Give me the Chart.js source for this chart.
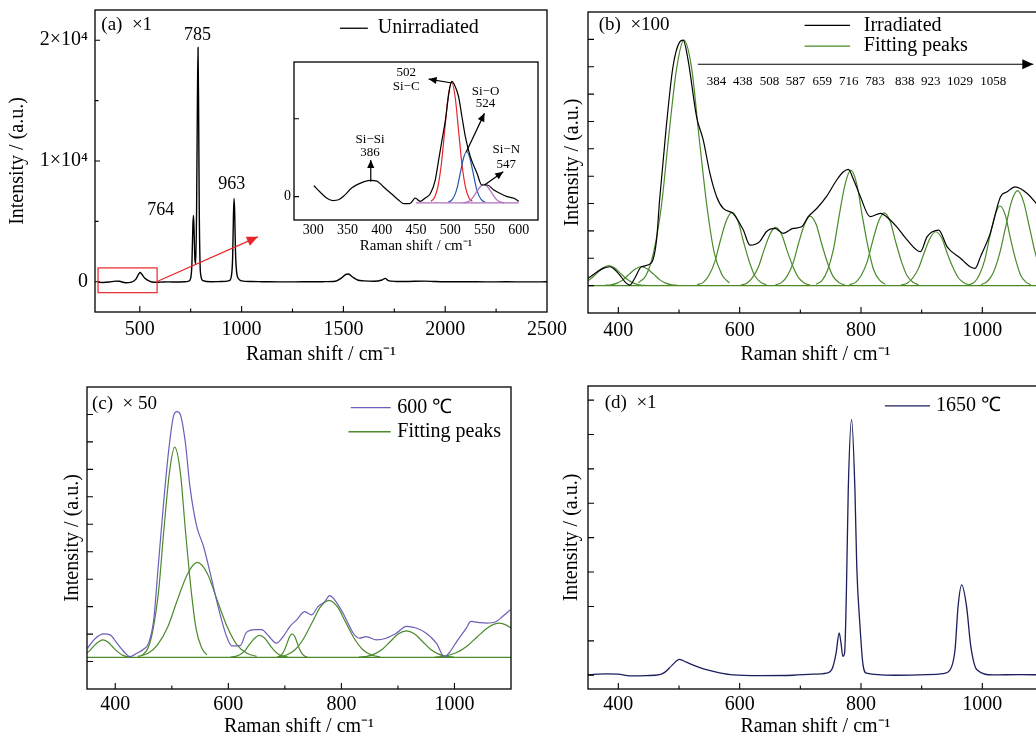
<!DOCTYPE html>
<html>
<head>
<meta charset="utf-8">
<script src="https://cdn.jsdelivr.net/npm/chart.js"></script>
<style>
  html, body { margin: 0; padding: 0; background: #fff; overflow: hidden; width: 1036px; height: 740px; }
  canvas { position: absolute; }
</style>
</head>
<body>
<canvas id="panelA" width="590" height="370" style="left:0px;top:0px"></canvas>
<canvas id="inset" width="275" height="203" style="left:270px;top:55px"></canvas>
<canvas id="panelB" width="500" height="370" style="left:560px;top:0px"></canvas>
<canvas id="panelC" width="560" height="360" style="left:0px;top:380px"></canvas>
<canvas id="panelD" width="500" height="360" style="left:560px;top:380px"></canvas>
<script>
// ---- data ----

// (a) unirradiated, x = Raman shift, y = intensity
const specA = [[295,-40],[320,-60],[350,-20],[380,60],[400,40],[430,-80],[460,-30],[480,200],[495,650],[502,780],[510,620],[525,300],[545,80],[570,-40],[600,-30],[640,-10],[680,-20],[720,0],[740,50],[750,300],[756,1500],[761,4800],[764,5500],[767,4000],[771,1800],[775,1500],[779,6000],[783,15000],[786,19400],[789,14000],[792,6000],[796,1500],[800,500],[810,100],[850,0],[900,20],[940,100],[950,500],[956,2000],[960,5500],[963,6900],[966,5800],[970,2500],[975,900],[985,250],[1000,80],[1050,20],[1100,10],[1200,-10],[1300,0],[1400,10],[1460,50],[1490,300],[1510,600],[1525,650],[1545,400],[1570,150],[1600,80],[1650,40],[1690,150],[1705,280],[1720,100],[1760,30],[1800,20],[1900,60],[1950,20],[2000,0],[2100,10],[2200,-10],[2300,0],[2400,-10],[2500,0]];

// inset of (a): 300-600 cm-1 region
const specInset = [[301,0.14],[310,0.06],[320,-0.02],[329,-0.05],[337,-0.04],[346,0.02],[356,0.11],[368,0.17],[383,0.21],[393,0.20],[402,0.13],[415,0.03],[424,-0.04],[432,-0.09],[441,-0.09],[449,-0.02],[456,-0.06],[463,-0.02],[471,0.04],[478,0.21],[483,0.47],[488,0.73],[493,0.99],[498,1.33],[502,1.48],[507,1.42],[512,1.29],[517,1.03],[522,0.77],[529,0.52],[539,0.30],[546,0.15],[554,0.15],[563,0.09],[573,0.04],[583,0.00],[593,-0.02],[600,-0.06]];
const fitInsetSiC = [[472,-0.06],[477,-0.01],[482,0.13],[487,0.42],[492,0.86],[497,1.29],[502,1.47],[507,1.29],[512,0.86],[517,0.42],[522,0.13],[527,-0.01],[532,-0.06]];
const fitInsetSiO = [[497,-0.07],[501.5,-0.05],[506,0.01],[510.5,0.13],[515,0.32],[519.5,0.50],[524,0.58],[528.5,0.50],[533,0.32],[537.5,0.13],[542,0.01],[546.5,-0.05],[551,-0.07]];
const fitInsetSiN = [[519,-0.08],[524,-0.07],[529,-0.05],[534,0.00],[539,0.07],[544,0.13],[549,0.16],[554,0.13],[559,0.07],[564,0.00],[569,-0.05],[574,-0.07],[579,-0.08]];
const baseInset = [[450,-0.08],[600,-0.08]];

// (b) irradiated, x100
const specB = [[350,0.27],[375,0.63],[386,0.69],[400,0.45],[413,0.09],[419,0.02],[427,0.27],[438,0.69],[454,0.82],[463,1.67],[468,3.13],[479,5.80],[490,7.99],[501,8.90],[507,8.97],[515,8.24],[529,6.17],[540,5.32],[551,4.10],[562,3.25],[573,2.82],[589,2.64],[606,2.03],[617,1.48],[633,1.61],[644,1.97],[658,2.09],[672,1.91],[688,2.09],[702,2.15],[713,2.52],[727,2.82],[743,3.25],[760,3.86],[771,4.16],[779,4.25],[788,3.86],[799,3.25],[815,2.52],[832,2.64],[848,2.40],[859,2.15],[876,1.67],[898,1.24],[909,1.79],[928,2.03],[942,1.42],[964,1.00],[980,0.69],[988,0.63],[997,1.06],[1013,1.91],[1030,3.25],[1041,3.43],[1054,3.61],[1074,3.37],[1089,3.00],[1100,2.70]];
const peakLabelsB = ['384','438','508','587','659','716','783','838','923','1029','1058'];
const peakLabelXB = [562,605,649,692,736,780,823,872,915,963,1018];
const fitB384 = [[324,0.01],[334,0.03],[344,0.10],[354,0.24],[364,0.44],[374,0.64],[384,0.73],[394,0.64],[404,0.44],[414,0.24],[424,0.10],[434,0.03],[444,0.01]];
const fitB438 = [[378,0.01],[388,0.03],[398,0.09],[408,0.22],[418,0.42],[428,0.61],[438,0.69],[448,0.61],[458,0.42],[468,0.22],[478,0.09],[488,0.03],[498,0.01]];
const fitB508 = [[433,0.10],[446,0.39],[458,1.21],[471,2.91],[483,5.44],[496,7.92],[508,8.97],[521,7.92],[533,5.44],[546,2.91],[558,1.21],[571,0.39],[583,0.10]];
const fitB587 = [[530,0.03],[540,0.12],[549,0.36],[559,0.87],[568,1.63],[578,2.37],[587,2.68],[597,2.37],[606,1.63],[616,0.87],[625,0.36],[635,0.12],[644,0.03]];
const fitB659 = [[602,0.02],[612,0.09],[621,0.29],[631,0.69],[640,1.29],[650,1.88],[659,2.13],[669,1.88],[678,1.29],[688,0.69],[697,0.29],[707,0.09],[716,0.02]];
const fitB716 = [[659,0.03],[669,0.11],[678,0.34],[688,0.82],[697,1.54],[707,2.24],[716,2.54],[726,2.24],[735,1.54],[745,0.82],[754,0.34],[764,0.11],[773,0.03]];
const fitB783 = [[726,0.05],[736,0.19],[745,0.57],[755,1.37],[764,2.56],[774,3.72],[783,4.22],[793,3.72],[802,2.56],[812,1.37],[821,0.57],[831,0.19],[840,0.05]];
const fitB838 = [[781,0.03],[791,0.12],[800,0.36],[810,0.86],[819,1.61],[829,2.35],[838,2.66],[848,2.35],[857,1.61],[867,0.86],[876,0.36],[886,0.12],[895,0.03]];
const fitB923 = [[866,0.02],[876,0.09],[885,0.27],[895,0.64],[904,1.19],[914,1.74],[923,1.97],[933,1.74],[942,1.19],[952,0.64],[961,0.27],[971,0.09],[980,0.02]];
const fitB1029 = [[978,0.03],[987,0.13],[995,0.39],[1004,0.94],[1012,1.76],[1021,2.57],[1029,2.91],[1038,2.57],[1046,1.76],[1055,0.94],[1063,0.39],[1072,0.13],[1080,0.03]];
const fitB1058 = [[998,0.04],[1008,0.15],[1018,0.47],[1028,1.13],[1038,2.10],[1048,3.06],[1058,3.47],[1068,3.06],[1078,2.10],[1088,1.13],[1098,0.47],[1108,0.15],[1118,0.04]];
const baseB = [[350,0],[1100,0]];

// (c) 600 C, x50
const specC = [[351,0.49],[365,0.85],[379,1.01],[391,0.97],[403,0.67],[418,0.30],[426,0.18],[438,0.30],[450,0.45],[459,0.67],[468,1.52],[476,3.47],[485,5.66],[494,7.60],[503,8.94],[509,9.10],[515,9.00],[524,7.97],[532,6.39],[544,4.93],[556,4.20],[568,3.22],[579,2.25],[588,1.52],[597,0.91],[606,0.57],[621,0.58],[632,1.06],[647,1.16],[659,1.16],[671,0.94],[685,0.67],[697,0.91],[709,1.28],[721,1.52],[735,1.82],[747,1.70],[759,2.01],[771,2.19],[779,2.40],[788,2.25],[803,1.76],[821,1.03],[832,0.85],[844,0.91],[862,0.79],[879,0.85],[897,1.03],[915,1.28],[932,1.22],[950,1.03],[968,0.67],[982,0.18],[991,0.33],[1006,0.79],[1021,1.22],[1029,1.46],[1044,1.42],[1056,1.40],[1074,1.46],[1085,1.64],[1099,1.89]];
const fitC378 = [[327,0.16],[336,0.18],[344,0.24],[353,0.36],[361,0.54],[370,0.71],[378,0.79],[387,0.71],[395,0.54],[404,0.36],[412,0.24],[421,0.18],[429,0.16]];
const fitC505 = [[448,0.24],[458,0.49],[467,1.19],[477,2.64],[486,4.80],[496,6.91],[505,7.81],[515,6.91],[524,4.80],[534,2.64],[543,1.19],[553,0.49],[562,0.24]];
const fitC545 = [[440,0.19],[458,0.30],[475,0.62],[493,1.27],[510,2.25],[528,3.20],[545,3.61],[563,3.20],[580,2.25],[598,1.27],[615,0.62],[633,0.30],[650,0.19]];
const fitC655 = [[604,0.16],[613,0.19],[621,0.26],[630,0.41],[638,0.64],[647,0.86],[655,0.95],[664,0.86],[672,0.64],[681,0.41],[689,0.26],[698,0.19],[706,0.16]];
const fitC713 = [[686,0.16],[690.5,0.19],[695,0.27],[699.5,0.43],[704,0.67],[708.5,0.91],[713,1.01],[717.5,0.91],[722,0.67],[726.5,0.43],[731,0.27],[735.5,0.19],[740,0.16]];
const fitC778 = [[688,0.17],[703,0.24],[718,0.43],[733,0.83],[748,1.41],[763,1.99],[778,2.23],[793,1.99],[808,1.41],[823,0.83],[838,0.43],[853,0.24],[868,0.17]];
const fitC915 = [[831,0.16],[845,0.19],[859,0.28],[873,0.46],[887,0.74],[901,1.01],[915,1.12],[929,1.01],[943,0.74],[957,0.46],[971,0.28],[985,0.19],[999,0.16]];
const fitC1079 = [[965,0.16],[984,0.20],[1003,0.32],[1022,0.56],[1041,0.91],[1060,1.25],[1079,1.40],[1098,1.25],[1117,0.91],[1136,0.56],[1155,0.32],[1174,0.20],[1193,0.16]];
const baseC = [[350,0.15],[1100,0.15]];

// (d) 1650 C, x1
const specD = [[350,0.02],[380,0.04],[399,0.03],[424,-0.02],[446,-0.01],[468,0.02],[477,0.09],[488,0.28],[501,0.46],[512,0.38],[529,0.26],[545,0.16],[567,0.07],[589,0.01],[633,-0.01],[688,0],[721,0.03],[743,0.06],[753,0.21],[759,0.65],[764,1.23],[767,0.94],[770,0.55],[773,0.65],[776,2.49],[779,5.39],[784.5,7.43],[790,5.39],[793,3.16],[798,1.52],[803,0.35],[809,0.06],[854,0],[909,0.02],[936,0.05],[947,0.16],[955,0.74],[960,2.00],[966,2.63],[974,2.00],[981,0.84],[991,0.16],[1018,0.01],[1060,0.02],[1100,0.01]];

// tick values
const ticksA = { xLab: [500, 1000, 1500, 2000, 2500], xMin: [750, 1250, 1750, 2250], yLab: [0, 10000, 20000], yText: ['0', '1×10⁴', '2×10⁴'], yMin: [5000, 15000] };
const ticksInsetX = [300, 350, 400, 450, 500, 550, 600];
const ticksBCD = { xLab: [400, 600, 800, 1000], xMin: [500, 700, 900, 1100] };
const yTicksBC = [0, 1, 2, 3, 4, 5, 6, 7, 8, 9];
const yTicksD = [0, 1, 2, 3, 4, 5, 6, 7, 8];

// ---- drawing ----
const serif = '"Liberation Serif", "Times New Roman", serif';
const GREEN = '#4a8a2a';
const PURPLE = '#6b5eb8';
const NAVY = '#1c1f5c';
const pts = arr => arr.map(([x, y]) => ({x, y}));

// box + inward ticks
const frame = {
  id: 'frame',
  afterDatasetsDraw(chart, args, o) {
    const {ctx, chartArea: a, scales: {x, y}} = chart;
    ctx.save();
    ctx.strokeStyle = '#000';
    ctx.lineWidth = 1.3;
    ctx.strokeRect(a.left, a.top, a.right - a.left, a.bottom - a.top);
    ctx.lineWidth = 1.1;
    ctx.beginPath();
    (o.xMajor || []).forEach(v => { const p = x.getPixelForValue(v); if (p > a.left && p < a.right) { ctx.moveTo(p, a.bottom); ctx.lineTo(p, a.bottom - 6); } });
    (o.xMinor || []).forEach(v => { const p = x.getPixelForValue(v); if (p > a.left && p < a.right) { ctx.moveTo(p, a.bottom); ctx.lineTo(p, a.bottom - 3.5); } });
    (o.yMajor || []).forEach(v => { const p = y.getPixelForValue(v); ctx.moveTo(a.left, p); ctx.lineTo(a.left + (o.yLen || 6), p); });
    (o.yMinor || []).forEach(v => { const p = y.getPixelForValue(v); ctx.moveTo(a.left, p); ctx.lineTo(a.left + 3.5, p); });
    ctx.stroke();
    ctx.restore();
  }
};

function arrowHead(ctx, x1, y1, x2, y2, len, wid) {
  const ang = Math.atan2(y2 - y1, x2 - x1);
  ctx.beginPath();
  ctx.moveTo(x2, y2);
  ctx.lineTo(x2 - len * Math.cos(ang) + wid * Math.sin(ang), y2 - len * Math.sin(ang) - wid * Math.cos(ang));
  ctx.lineTo(x2 - len * Math.cos(ang) - wid * Math.sin(ang), y2 - len * Math.sin(ang) + wid * Math.cos(ang));
  ctx.closePath();
  ctx.fill();
}

// texts, legend segments, arrows, boxes in data coordinates
const notes = {
  id: 'notes',
  afterDraw(chart, args, o) {
    const {ctx, scales: {x, y}} = chart;
    const X = v => x.getPixelForValue(v), Y = v => y.getPixelForValue(v);
    ctx.save();
    (o.rects || []).forEach(r => {
      ctx.strokeStyle = r.color; ctx.lineWidth = 1.2;
      ctx.strokeRect(X(r.x1), Y(r.y2), X(r.x2) - X(r.x1), Y(r.y1) - Y(r.y2));
    });
    (o.segs || []).forEach(s => {
      ctx.strokeStyle = s.color; ctx.lineWidth = s.width || 1.3;
      ctx.beginPath(); ctx.moveTo(X(s.x1), Y(s.y)); ctx.lineTo(X(s.x2), Y(s.y)); ctx.stroke();
    });
    (o.arrows || []).forEach(s => {
      const x1 = X(s.x1), y1 = Y(s.y1), x2 = X(s.x2), y2 = Y(s.y2);
      ctx.strokeStyle = s.color; ctx.fillStyle = s.color; ctx.lineWidth = s.width || 1.2;
      ctx.beginPath(); ctx.moveTo(x1, y1); ctx.lineTo(x2, y2); ctx.stroke();
      arrowHead(ctx, x1, y1, x2, y2, s.head || 9, (s.head || 9) * 0.45);
    });
    (o.texts || []).forEach(t => {
      ctx.fillStyle = t.color || '#000';
      ctx.font = `${t.size || 20}px ${serif}`;
      ctx.textAlign = t.align || 'center';
      ctx.textBaseline = 'middle';
      ctx.fillText(t.t, X(t.x), Y(t.y));
    });
    ctx.restore();
  }
};

function xAxis(min, max, labels, o) {
  return {
    type: 'linear', min, max,
    afterBuildTicks: s => { s.ticks = labels.map(v => ({value: v})); },
    afterFit: s => { s.height = o.height; s.paddingLeft = 0; s.paddingRight = 0; },
    grid: {display: false, drawTicks: false},
    border: {display: false},
    ticks: {color: '#000', font: {family: serif, size: o.tickSize || 20}, padding: o.tickPad, maxRotation: 0, autoSkip: false, callback: v => String(v)},
    title: {display: o.title !== '', text: o.title, color: '#000', font: {family: serif, size: o.titleSize || 20}, padding: {top: 0, bottom: o.titlePad}}
  };
}

function yAxis(min, max, labels, texts, o) {
  return {
    type: 'linear', min, max,
    afterBuildTicks: s => { s.ticks = labels.map(v => ({value: v})); },
    afterFit: s => { s.width = o.width; s.paddingTop = 0; s.paddingBottom = 0; },
    grid: {display: false, drawTicks: false},
    border: {display: false},
    ticks: {display: texts.length > 0, color: '#000', font: {family: serif, size: o.tickSize || 20}, padding: o.tickPad || 0, callback: (v, i) => texts[i]},
    title: {display: o.title !== '', text: o.title, color: '#000', font: {family: serif, size: 20}, padding: {top: o.titlePad || 0, bottom: 0}}
  };
}

function line(points, color, width) {
  return {data: pts(points), borderColor: color, borderWidth: width || 1.2, pointRadius: 0, fill: false, cubicInterpolationMode: 'monotone'};
}

function makeChart(id, datasets, scales, padding, frameOpts, notesOpts) {
  return new Chart(document.getElementById(id), {
    type: 'line',
    data: {datasets},
    options: {
      responsive: false, animation: false,
      layout: {padding},
      scales,
      plugins: {legend: {display: false}, tooltip: {enabled: false}, frame: frameOpts, notes: notesOpts}
    },
    plugins: [frame, notes]
  });
}

const yTitle = 'Intensity / (a.u.)';
const xTitle = 'Raman shift / cm⁻¹';

// (a)
makeChart('panelA',
  [line(specA, '#000', 1.4)],
  {
    x: xAxis(280, 2500, ticksA.xLab, {height: 58, tickPad: 6, title: xTitle, titlePad: 3}),
    y: yAxis(-2500, 22500, ticksA.yLab, ticksA.yText, {width: 95, tickPad: 7, title: yTitle, titlePad: 6})
  },
  {left: 0, top: 10, right: 43, bottom: 0},
  {xMajor: ticksA.xLab, xMinor: ticksA.xMin, yMajor: ticksA.yLab, yMinor: ticksA.yMin, yLen: 5},
  {
    rects: [{x1: 295, x2: 585, y1: -900, y2: 1150, color: '#e8262a'}],
    arrows: [{x1: 585, y1: 25, x2: 1080, y2: 3720, color: '#e8262a', head: 11}],
    segs: [{x1: 1483, x2: 1620, y: 20990, color: '#000'}],
    texts: [
      {x: 311, y: 21240, t: '(a)  ×1', size: 19, align: 'left'},
      {x: 783, y: 20400, t: '785', size: 18},
      {x: 603, y: 5950, t: '764', size: 18},
      {x: 952, y: 8100, t: '963', size: 18},
      {x: 1669, y: 20990, t: 'Unirradiated', size: 20, align: 'left'}
    ]
  });

// inset of (a)
makeChart('inset',
  [line(specInset, '#000', 1.2), line(baseInset, '#b070c0', 1.2), line(fitInsetSiN, '#b070c0', 1.2), line(fitInsetSiO, '#2457b0', 1.2), line(fitInsetSiC, '#e8262a', 1.2)],
  {
    x: xAxis(272, 628, ticksInsetX, {height: 38, tickPad: 2, tickSize: 14, title: xTitle, titleSize: 15, titlePad: 3}),
    y: yAxis(-0.30, 1.73, [0], ['0'], {width: 24, tickPad: 3, tickSize: 14, title: ''})
  },
  {left: 0, top: 7, right: 7, bottom: 0},
  {yMajor: [0, 1], yLen: 5},
  {
    arrows: [
      {x1: 502.6, y1: 1.46, x2: 468.4, y2: 1.51, color: '#000', head: 8},
      {x1: 523.1, y1: 0.57, x2: 549.9, y2: 1.07, color: '#000', head: 8},
      {x1: 384, y1: 0.19, x2: 384, y2: 0.47, color: '#000', head: 8},
      {x1: 550, y1: 0.15, x2: 577.3, y2: 0.32, color: '#000', head: 8}
    ],
    texts: [
      {x: 435.7, y: 1.60, t: '502', size: 13}, {x: 435.7, y: 1.42, t: 'Si−C', size: 13},
      {x: 551.4, y: 1.35, t: 'Si−O', size: 13}, {x: 551.4, y: 1.20, t: '524', size: 13},
      {x: 383, y: 0.73, t: 'Si−Si', size: 13}, {x: 383, y: 0.56, t: '386', size: 13},
      {x: 581.7, y: 0.60, t: 'Si−N', size: 13}, {x: 581.7, y: 0.41, t: '547', size: 13}
    ]
  });

// (b)
const fitsB = [fitB384, fitB438, fitB508, fitB587, fitB659, fitB716, fitB783, fitB838, fitB923, fitB1029, fitB1058];
makeChart('panelB',
  [line(specB, '#000', 1.2), line(baseB, GREEN, 1.3)].concat(fitsB.map(f => line(f, GREEN, 1.2))),
  {
    x: xAxis(350, 1100, ticksBCD.xLab, {height: 57, tickPad: 6, title: xTitle, titlePad: 3}),
    y: yAxis(-1, 10, yTicksBC, [], {width: 28, title: yTitle, titlePad: 1})
  },
  {left: 0, top: 12, right: 17, bottom: 0},
  {xMajor: ticksBCD.xLab, xMinor: ticksBCD.xMin, yMajor: yTicksBC},
  {
    segs: [{x1: 707, x2: 782, y: 9.51, color: '#000'}, {x1: 707, x2: 782, y: 8.75, color: GREEN}],
    arrows: [{x1: 531, y1: 8.09, x2: 1084, y2: 8.09, color: '#000', head: 11}],
    texts: [
      {x: 367.7, y: 9.51, t: '(b)  ×100', size: 19, align: 'left'},
      {x: 804.6, y: 9.51, t: 'Irradiated', size: 20, align: 'left'},
      {x: 804.6, y: 8.75, t: 'Fitting peaks', size: 20, align: 'left'}
    ].concat(peakLabelsB.map((t, i) => ({x: peakLabelXB[i], y: 7.47, t, size: 13})))
  });

// (c)
const fitsC = [fitC378, fitC505, fitC545, fitC655, fitC713, fitC778, fitC915, fitC1079];
makeChart('panelC',
  [line(specC, PURPLE, 1.2), line(baseC, GREEN, 1.3)].concat(fitsC.map(f => line(f, GREEN, 1.2))),
  {
    x: xAxis(350, 1100, ticksBCD.xLab, {height: 51, tickPad: 4, title: xTitle, titlePad: 1}),
    y: yAxis(-1, 10, yTicksBC, [], {width: 87, title: yTitle, titlePad: 61})
  },
  {left: 0, top: 7, right: 49, bottom: 0},
  {xMajor: ticksBCD.xLab, xMinor: ticksBCD.xMin, yMajor: yTicksBC},
  {
    segs: [{x1: 816.6, x2: 887.2, y: 9.25, color: PURPLE}, {x1: 812.5, x2: 887.2, y: 8.37, color: GREEN}],
    texts: [
      {x: 358.8, y: 9.37, t: '(c)  × 50', size: 19, align: 'left'},
      {x: 898.8, y: 9.25, t: '600 ℃', size: 20, align: 'left'},
      {x: 898.8, y: 8.37, t: 'Fitting peaks', size: 20, align: 'left'}
    ]
  });

// (d)
makeChart('panelD',
  [line(specD, NAVY, 1.3)],
  {
    x: xAxis(350, 1100, ticksBCD.xLab, {height: 51, tickPad: 4, title: xTitle, titlePad: 1}),
    y: yAxis(-0.4, 8.41, yTicksD, [], {width: 28, title: yTitle, titlePad: 0})
  },
  {left: 0, top: 6, right: 17, bottom: 0},
  {xMajor: ticksBCD.xLab, xMinor: ticksBCD.xMin, yMajor: yTicksD},
  {
    segs: [{x1: 839.4, x2: 913.7, y: 7.83, color: NAVY}],
    texts: [
      {x: 377.6, y: 7.92, t: '(d)  ×1', size: 19, align: 'left'},
      {x: 923.8, y: 7.83, t: '1650 ℃', size: 20, align: 'left'}
    ]
  });
</script>
</body>
</html>
